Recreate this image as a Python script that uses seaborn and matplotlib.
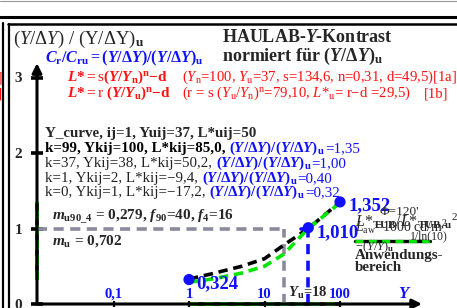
import matplotlib.pyplot as plt
import seaborn as sns
import pandas as pd
import numpy as np
from matplotlib.lines import Line2D

# Y_curve samples (Y on log axis, ratio (Y/dY)/(Y/dY)_u)
y_lum = [1, 2, 5, 10, 18, 38, 100]
ratio_black = [0.33, 0.40, 0.50, 0.60, 0.78, 1.00, 1.35]
ratio_green = [0.29, 0.33, 0.41, 0.50, 0.66, 1.00, 1.34]

# marked points
pt_y = [1, 38, 100]
pt_ratio = [0.324, 1.010, 1.352]
pt_labels = ['0,324', '1,010', '1,352']

x_ticks = [0.1, 1, 10, 100]
x_ticklabels = ['0,1', '1', '10', '100']
y_ticks = [0, 1, 2, 3]

y_u = 18
y_uij = 38
range_y = [1, 100]
range_ratio = [0.32, 1.35]

RED = '#ff1010'
BLUE = '#1010ff'
GREEN = '#00e600'
GRAY = '#8a8a9e'

sns.set_theme(style='white')
plt.rcParams['font.family'] = ['Liberation Serif', 'DejaVu Serif']
plt.rcParams['mathtext.fontset'] = 'custom'
plt.rcParams['mathtext.rm'] = 'Liberation Serif'
plt.rcParams['mathtext.it'] = 'Liberation Serif:italic'
plt.rcParams['mathtext.bf'] = 'Liberation Serif:bold'
plt.rcParams['mathtext.bfit'] = 'Liberation Serif:italic:bold'

W, H = 457, 308
fig = plt.figure(figsize=(W / 100, H / 100), dpi=100)
ax = fig.add_axes([0, 0, 1, 1])
renderer = fig.canvas.get_renderer()


def set_scales():
    # 75.5 px per decade / per unit, Y=1 at x=189, ratio 0 at y=304
    ax.set_xscale('log')
    ax.set_xlim(10 ** (-189 / 75.5), 10 ** ((W - 189) / 75.5))
    ax.set_ylim(-(H - 304) / 75.5, 304 / 75.5)


set_scales()
ax.axis('off')


def fx(x):
    return x / W


def fy(y):
    return 1 - y / H


def hline(y, x0, x1, **kw):
    ax.add_line(Line2D([fx(x0), fx(x1)], [fy(y), fy(y)], transform=ax.transAxes,
                       clip_on=False, **kw))


def vline(x, y0, y1, **kw):
    ax.add_line(Line2D([fx(x), fx(x)], [fy(y0), fy(y1)], transform=ax.transAxes,
                       clip_on=False, **kw))


def txt(x, y, s, **kw):
    return ax.text(fx(x), fy(y), s, transform=ax.transAxes, va='baseline', **kw)


def seq(x, y, parts, size):
    for s, color, weight in parts:
        t = txt(x, y, s, color=color, fontweight=weight, fontsize=size)
        bb = t.get_window_extent(renderer)
        x = bb.x1


# frame
hline(1, 0, W, color='#999999', lw=0.8)
hline(17, 0, W, color='black', lw=2.2)
hline(24, 8, W, color='black', lw=1.8)
vline(3, 23, H, color='black', lw=1.6)
vline(9, 24, H, color='black', lw=1.6)
txt(2.5, 81, '[1a]', color=RED, fontsize=10, ha='right')
txt(2.5, 97, '[1b]', color=RED, fontsize=10, ha='right')

x0 = 10 ** (-152 / 75.5)

# application range on the axes
ax.plot(range_y, [0, 0], color='black', lw=2.6, solid_capstyle='butt')
ax.plot(range_y, [0, 0], color=GREEN, lw=2.6, dashes=(2.6, 1.6))
ax.plot([x0, x0], range_ratio, color='black', lw=2.6, solid_capstyle='butt')
ax.plot([x0, x0], range_ratio, color=GREEN, lw=2.6, dashes=(2.6, 1.6))

# axes with arrows
ax.annotate('', xy=(10 ** 3.086, 0), xytext=(x0, 0),
            arrowprops=dict(arrowstyle='-|>', lw=2.2, color='black', mutation_scale=14,
                            shrinkA=0, shrinkB=0))
ax.annotate('', xy=(x0, 3.19), xytext=(x0, 0),
            arrowprops=dict(arrowstyle='-|>', lw=2.2, color='black', mutation_scale=14,
                            shrinkA=0, shrinkB=0))
ax.plot([x0] * len(y_ticks), y_ticks, ls='none', marker='_', ms=8, mew=2.6, color='black')
ax.plot(x_ticks, [0] * len(x_ticks), ls='none', marker='|', ms=5, mew=1.6, color='black')

for v in y_ticks:
    txt(18.5, 304 - 75.5 * v + 5, str(v), fontsize=11, fontweight='bold', ha='center')
for xv, lab in zip(x_ticks, x_ticklabels):
    xp = 189 + 75.5 * np.log10(xv)
    txt(xp, 298, lab, fontsize=10.5, fontweight='bold', color=BLUE, ha='center')

# guide lines
ax.plot([x0, y_u], [1, 1], color=GRAY, lw=2.6, dashes=(2.8, 1.8))
ax.plot([y_u, y_u], [0, 1], color=GRAY, lw=2.6, dashes=(2.8, 1.8))
ax.plot([y_uij, y_uij], [0, pt_ratio[1]], color=BLUE, lw=2.6, dashes=(2.8, 1.8))

# curves
df = pd.DataFrame({'Y': y_lum + y_lum,
                   'ratio': ratio_black + ratio_green,
                   'curve': ['black'] * len(y_lum) + ['green'] * len(y_lum)})
sns.lineplot(data=df[df.curve == 'black'], x='Y', y='ratio', ax=ax, color='black',
             lw=2.6, dashes=(2.6, 1.6), legend=False)
sns.lineplot(data=df[df.curve == 'green'], x='Y', y='ratio', ax=ax, color=GREEN,
             lw=2.6, dashes=(2.6, 1.6), legend=False)
set_scales()

sns.scatterplot(x=pt_y, y=pt_ratio, ax=ax, color=BLUE, s=65, edgecolor='none', zorder=5)
ax.plot([10 ** ((301 - 189) / 75.5), 10 ** ((306 - 189) / 75.5)], [1.0, 1.0], color=BLUE, lw=2.6)
txt(196, 288, pt_labels[0], fontsize=13.5, fontweight='bold', color=BLUE)
txt(317, 237, pt_labels[1], fontsize=13.5, fontweight='bold', color=BLUE)
txt(348, 210, pt_labels[2], fontsize=13.5, fontweight='bold', color=BLUE)

txt(288, 297, r'$\mathbfit{Y}_\mathbf{u}$=18', fontsize=10.5, fontweight='bold')
txt(398, 298, r'$\mathbfit{Y}$', fontsize=12, color=BLUE)

# titles
txt(13, 44, r'$(Y/\Delta Y)$ / (Y/$\Delta$Y)$_\mathbf{u}$', fontsize=13.5)
txt(222, 42, r'HAULAB-$\mathbfit{Y}$-Kontrast', fontsize=13, fontweight='bold')
txt(222, 61, r'normiert für $\mathbf{(}\mathbfit{Y}\mathbf{/\Delta}\mathbfit{Y}\mathbf{)_u}$',
    fontsize=13, fontweight='bold')
txt(45, 62, r'$\mathbfit{C}_\mathbf{r}\mathbf{/}\mathbfit{C}_\mathbf{ru}\mathbf{=(}\mathbfit{Y}\mathbf{/\Delta}'
    r'\mathbfit{Y}\mathbf{)/(}\mathbfit{Y}\mathbf{/\Delta}\mathbfit{Y}\mathbf{)_u}$',
    fontsize=11.5, color=BLUE)

# formulas
txt(67, 81, r'$\mathbfit{L}\mathbf{*=}$s$\mathbf{(}\mathbfit{Y}\mathbf{/}\mathbfit{Y}_\mathbf{n}\mathbf{)}^\mathbf{n}\mathbf{-d}$',
    fontsize=11, color=RED)
txt(182, 81, r'($Y_\mathrm{n}$=100, $Y_\mathrm{u}$=37, s=134,6, n=0,31, d=49,5)[1a]',
    fontsize=10.6, color=RED)
txt(67, 97, r'$\mathbfit{L}\mathbf{*=}$r $\mathbf{(}\mathbfit{Y}\mathbf{/}\mathbfit{Y}_\mathbf{u}\mathbf{)}^\mathbf{n}\mathbf{-d}$',
    fontsize=11, color=RED)
txt(182, 97, r'(r = s ($Y_\mathrm{u}$/$Y_\mathrm{n}$)$^\mathrm{n}$=79,10, $L$*$_\mathrm{u}$= r$-$d =29,5)',
    fontsize=10.6, color=RED)
txt(424, 97, '[1b]', fontsize=10.6, color=RED)

# info lines
blue_q = r'$\mathbf{(}\mathbfit{Y}\mathbf{/\Delta}\mathbfit{Y}\mathbf{)/(}\mathbfit{Y}\mathbf{/\Delta}\mathbfit{Y}\mathbf{)_u}$'
fs = 10.8
txt(45, 137, 'Y_curve, ij=1, Yuij=37, L*uij=50', fontsize=fs, fontweight='bold')
seq(45, 152, [('k=99, Ykij=100, L*kij=85,0, ', 'black', 'bold'), (blue_q, BLUE, 'normal'),
              ('=1,35', BLUE, 'normal')], fs)
seq(45, 167, [('k=37, Ykij=38, L*kij=50,2, ', '#222222', 'normal'), (blue_q, BLUE, 'normal'),
              ('=1,00', BLUE, 'normal')], fs)
seq(45, 182, [('k=1, Ykij=2, L*kij=\u22129,4, ', '#222222', 'normal'), (blue_q, BLUE, 'normal'),
              ('=0,40', BLUE, 'normal')], fs)
seq(45, 196, [('k=0, Ykij=1, L*kij=\u221217,2, ', '#222222', 'normal'), (blue_q, BLUE, 'normal'),
              ('=0,32', BLUE, 'normal')], fs)

txt(52, 220, r'$\mathbfit{m}_\mathbf{u90\_4}$ = 0,279, $\mathbfit{f}_\mathbf{90}$=40, $\mathbfit{f}_\mathbf{4}$=16',
    fontsize=11, fontweight='bold')
txt(52, 245, r'$\mathbfit{m}_\mathbf{u}$ = 0,702', fontsize=11, fontweight='bold')

# right legend block
txt(380, 215, "\u03a6=120'", fontsize=9.5)
txt(355, 226, r'$L$*$_\mathbf{TUB}$/$L$*$_\mathbf{TUB,u}$$^2$', fontsize=11.5)
txt(355, 232, r'$L_\mathrm{aw}$=1000 cd/m$^2$', fontsize=10)
txt(410, 239, '1/ln(10)', fontsize=8.5)
hline(241, 355, 430, color='black', lw=2.4)
ax.add_line(Line2D([fx(355), fx(430)], [fy(241), fy(241)], transform=ax.transAxes,
                   clip_on=False, color=GREEN, lw=2.4, dashes=(2.4, 1.6)))
txt(355, 250, r'$-(Y/Y)_\mathbf{u}$', fontsize=9)
txt(355, 259, 'Anwendungs-', fontsize=10.8, fontweight='bold')
txt(355, 271, 'bereich', fontsize=10.8, fontweight='bold')

fig.savefig('out.png', dpi=100)
